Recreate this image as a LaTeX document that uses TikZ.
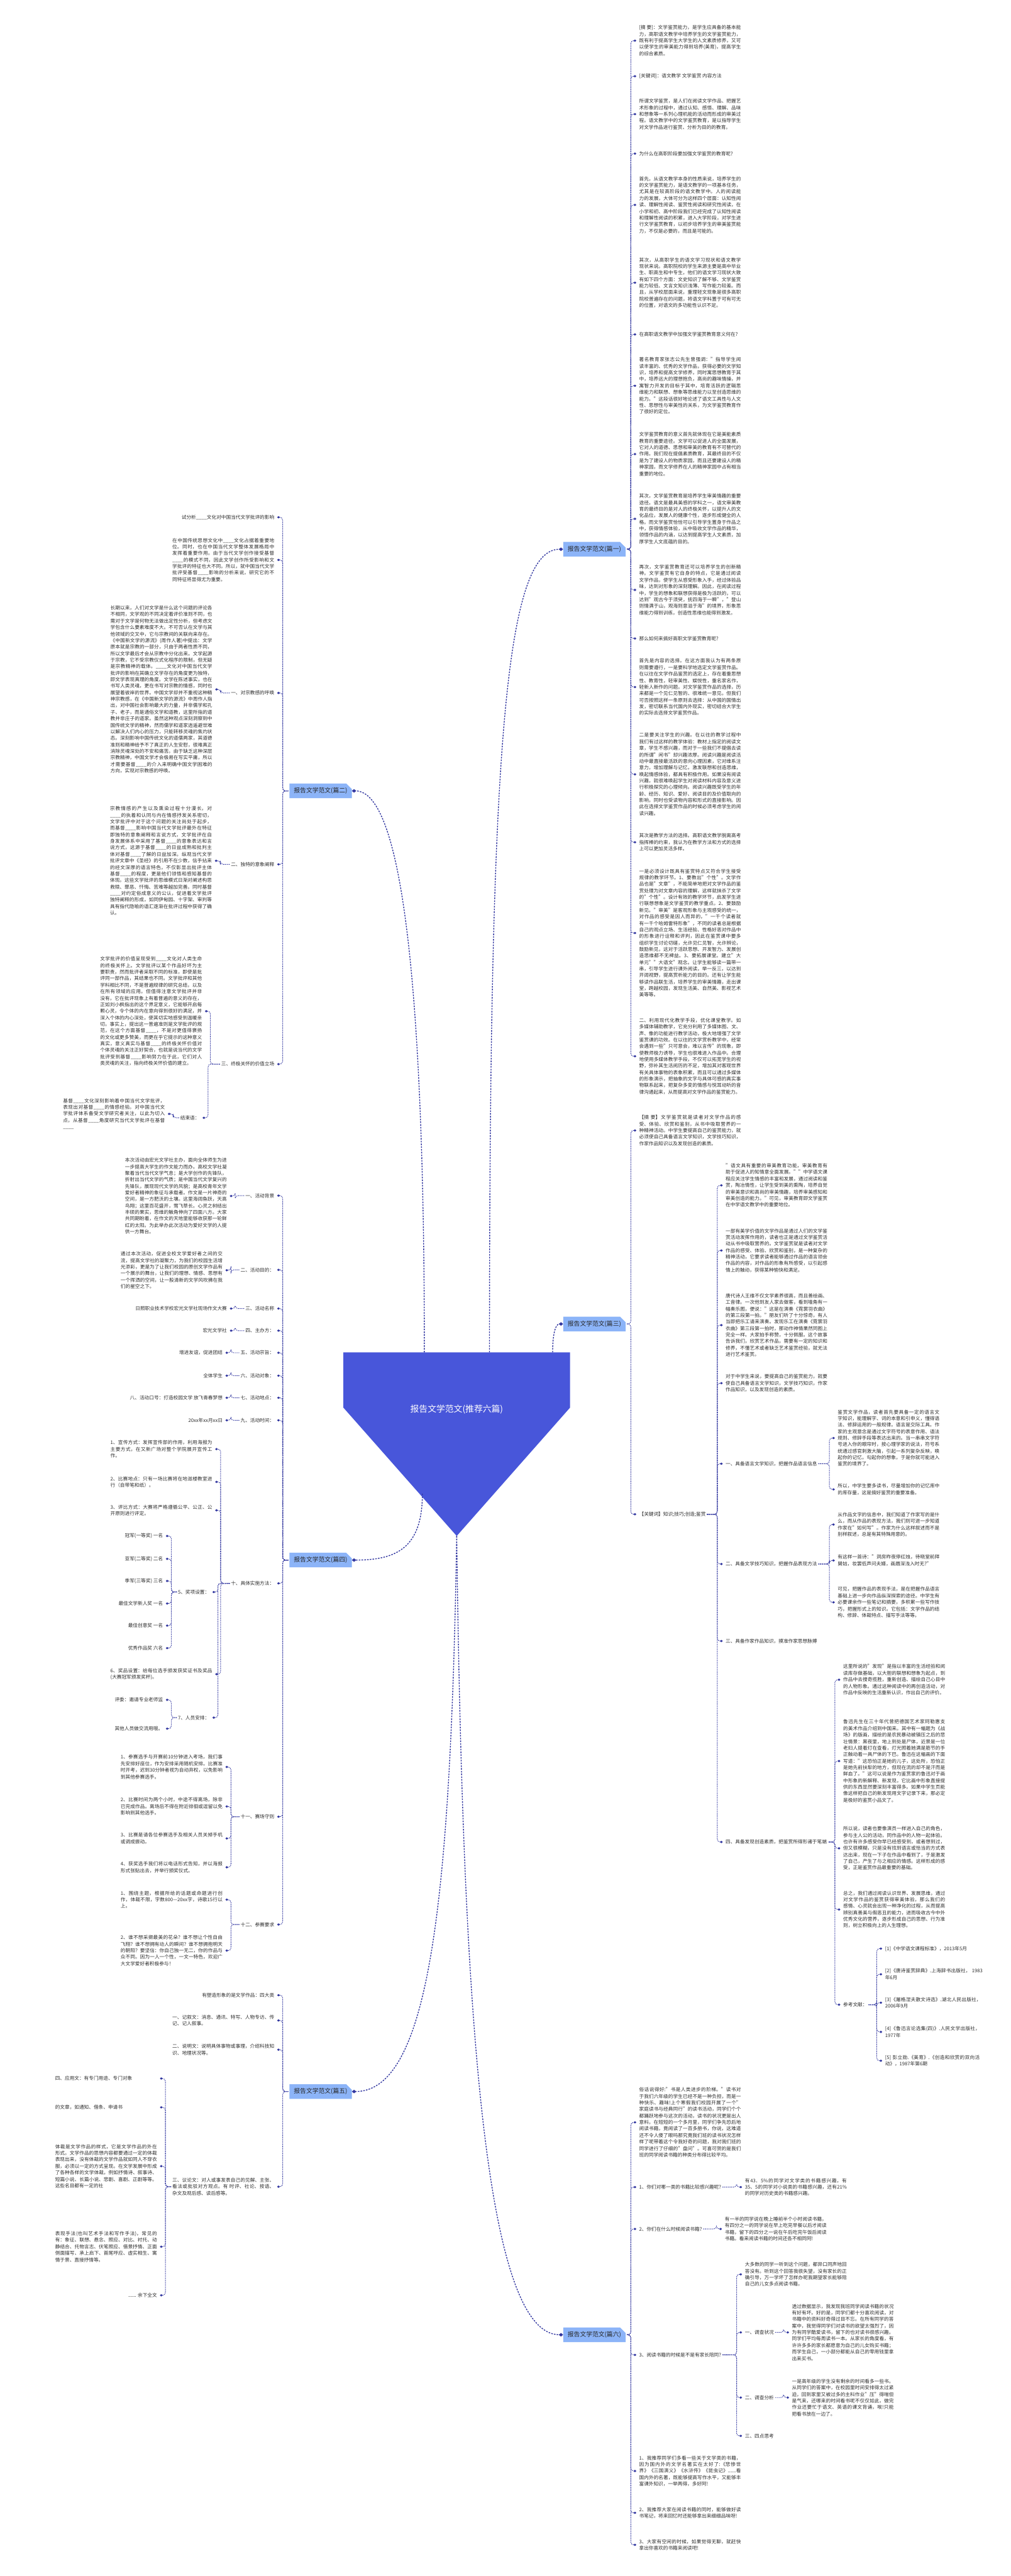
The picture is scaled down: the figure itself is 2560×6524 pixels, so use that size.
\documentclass[tikz,border=0pt]{standalone}
\usepackage{fontspec}
\setmainfont{Noto Sans CJK SC}
\usetikzlibrary{arrows.meta,shapes.misc,calc}
\XeTeXlinebreaklocale "zh"
\XeTeXlinebreakskip=0pt plus 1pt
\definecolor{lc}{RGB}{50,55,160}
\definecolor{txt}{RGB}{45,45,45}
\definecolor{brf}{RGB}{140,180,248}
\definecolor{ctrf}{RGB}{72,86,218}
\newcommand\tf{\fontsize{12.2pt}{16.5pt}\selectfont}
\tikzset{
  tR/.style={anchor=west,inner sep=0pt,font=\tf,text=txt,align=left},
  pR/.style={tR,text width=258pt,align=justify},
  tL/.style={anchor=east,inner sep=0pt,font=\tf,text=txt,align=right},
  pL/.style={anchor=east,inner sep=0pt,font=\tf,text=txt,text width=258pt,align=justify},
  brR/.style={chamfered rectangle,chamfered rectangle corners=north east,chamfered rectangle xsep=7pt,chamfered rectangle ysep=7pt,fill=brf,minimum width=158pt,minimum height=37pt,inner sep=0pt,font=\fontsize{15.6pt}{18pt}\selectfont,text=black!85,anchor=east},
  brL/.style={brR,anchor=west},
  con/.style={draw=lc,line width=1.5pt,dash pattern=on 2.5pt off 2pt,rounded corners=7pt,-{Diamond[length=7pt,width=6pt]}},
  mainc/.style={draw=lc,line width=2.2pt,dash pattern=on 4pt off 3pt,-{Diamond[length=11pt,width=9pt]}}
}
\newcommand\cR[2]{\draw[con] ([xshift=3pt]#1.east) -| ([xshift=-21pt]#2.west) -- ([xshift=-7pt]#2.west);}
\newcommand\cL[2]{\draw[con] ([xshift=-3pt]#1.west) -| ([xshift=21pt]#2.east) -- ([xshift=7pt]#2.east);}
\begin{document}
\begin{tikzpicture}[x=1pt,y=-1pt]
\useasboundingbox (0,0) rectangle (2560,6524);
\fill[white] (0,0) rectangle (2560,6524);

% ---------- centre ----------
\coordinate (ptl) at (870,3425);
\coordinate (ptr) at (1444,3425);
\coordinate (psr) at (1444,3565);
\coordinate (pbot) at (1157,3890);
\coordinate (psl) at (870,3565);
\fill[ctrf] (ptl) -- (ptr) -- (psr) -- (pbot) -- (psl) -- cycle;
\node[text=white,font=\fontsize{22pt}{25pt}\selectfont] (ctr) at (1157,3570) {报告文学范文(推荐六篇)};
\coordinate (s1) at (1240,3425);
\coordinate (s2) at (1075,3425);
\coordinate (s3) at (1400,3425);
\coordinate (s4) at (1070,3783);

% ---------- branch nodes ----------
\node[brR] (b1) at (1585,1391) {报告文学范文(篇一)};
\node[brL] (b2) at (733,2003) {报告文学范文(篇二)};
\node[brR] (b3) at (1585,3353) {报告文学范文(篇三)};
\node[brL] (b4) at (733,3951) {报告文学范文(篇四)};
\node[brL] (b5) at (733,5297) {报告文学范文(篇五)};
\node[brR] (b6) at (1585,5913) {报告文学范文(篇六)};

\draw[mainc] (s1) .. controls ($(s1)+(0,-1500)$) and ($(b1.west)+(-150,0)$) .. (b1.west);
\draw[mainc] (s2) .. controls ($(s2)+(0,-900)$) and ($(b2.east)+(130,0)$) .. (b2.east);
\draw[mainc] (s3) .. controls ($(s3)+(0,-45)$) and ($(b3.west)+(-20,0)$) .. (b3.west);
\draw[mainc] (s4) .. controls ($(s4)+(0,140)$) and ($(b4.east)+(110,0)$) .. (b4.east);
\draw[mainc] (pbot) .. controls ($(pbot)+(-15,900)$) and ($(b5.east)+(200,0)$) .. (b5.east);
\draw[mainc] (pbot) .. controls ($(pbot)+(15,1200)$) and ($(b6.west)+(-200,0)$) .. (b6.west);

% ---------- 篇一 ----------
\node[pR] (a1) at (1619,103) {[摘 要]：文学鉴赏能力，是学生应具备的基本能力，高职语文教学中培养学生的文学鉴赏能力，既有利于提高学生大学生的人文素质修养，又可以使学生的审美能力得到培养(美育)，提高学生的综合素质。};
\node[tR] (a2) at (1619,193) {[关键词]：语文教学 文学鉴赏 内容方法};
\node[pR] (a3) at (1619,289) {所谓文学鉴赏，是人们在阅读文学作品、把握艺术形象的过程中，通过认知、感悟、理解、品味和想象等一系列心理机能的活动而形成的审美过程。语文教学中的文学鉴赏教育，是以指导学生对文学作品进行鉴赏、分析为目的的教育。};
\node[tR] (a4) at (1619,389) {为什么在高职阶段要加强文学鉴赏的教育呢?};
\node[pR] (a5) at (1619,519) {首先，从语文教学本身的性质来说，培养学生的的文学鉴赏能力，是语文教学的一项基本任务，尤其是在较高阶段的语文教学中。人的阅读能力的发展，大体可分为这样四个层面：认知性阅读、理解性阅读、鉴赏性阅读和研究性阅读，在小学和初、高中阶段我们已经完成了认知性阅读和理解性阅读的积累，进入大学阶段，对学生进行文学鉴赏教育，以初步培养学生的审美鉴赏能力，不仅是必要的，而且是可能的。};
\node[pR] (a6) at (1619,716) {其次，从高职学生的语文学习现状和语文教学现状来说。高职院校的学生来源主要是高中毕业生、职高生和中专生，他们的语文学习现状大致有如下四个方面：文史知识了解不够、文学鉴赏能力较低、文言文知识浅薄、写作能力较差。而且，从学校层面来说，重理轻文现象是很多高职院校普遍存在的问题，将语文学科置于可有可无的位置，对语文的多功能性认识不足。};
\node[pR] (a7) at (1619,847) {在高职语文教学中加强文学鉴赏教育意义何在?};
\node[pR] (a8) at (1619,977) {著名教育家张志公先生曾强调："指导学生阅读丰富的、优秀的文学作品，获得必要的文学知识，培养和提高文学修养，同时寓思想教育于其中，培养远大的理想抱负，高尚的趣味情操，并寓智力开发的目标于其中，培育活跃的逻辑思维能力和联想、想象等思维能力以至创造思维的能力。"这段话很好地论述了语文工具性与人文性、思想性与审美性的关系，为文学鉴赏教育作了很好的定位。};
\node[pR] (a9) at (1619,1150) {文学鉴赏教育的意义首先就体现在它是美能素质教育的重要途径。文学可以促进人的全面发展，它对人的道德、思想和审美的教育有不可替代的作用。我们现在提倡素质教育，其最终目的不仅是为了建设人的物质家园，而且还要建设人的精神家园，而文学修养在人的精神家园中占有相当重要的地位。};
\node[pR] (a10) at (1619,1314) {其次，文学鉴赏教育是培养学生审美情趣的重要途径。语文是最具美感的学科之一，语文审美教育的最终目的是对人的终极关怀，以提升人的文化品位，发展人的健康个性，逐步形成健全的人格。而文学鉴赏恰恰可以引导学生置身于作品之中，获得情感体验，从中吸收文学作品的精华，领悟作品的内涵，以达到提高学生人文素质，加厚学生人文底蕴的目的。};
\node[pR] (a11) at (1619,1494) {再次，文学鉴赏教育还可以培养学生的创新精神。文学鉴赏有它自身的特点，它是通过阅读文学作品，使学生从感受形象入手，经过体验品味，达到对形象的深刻理解。因此，在阅读过程中，学生的想象和联想获得是极为活跃的，可以达到"观古今于须臾，抚四海于一瞬"，"登山则情满于山，观海则意溢于海"的境界，形象思维能力得到训练，创造性思维也能得到激发。};
\node[tR] (a12) at (1619,1617) {那么如何来搞好高职文学鉴赏教育呢?};
\node[pR] (a13) at (1619,1740) {首先是内容的选择。在这方面我认为有两条原则需要遵行，一是要科学地选定文学鉴赏作品。在以往在文学作品鉴赏的选定上，存在着重思想性、教育性，轻审美性、娱悦性，重名家名作，轻新人新作的问题。对文学鉴赏作品的选择，历来都是一个见仁见智的、很难统一意见。但我们可否按照这样一条原则去选择：从中国的国情出发，密切联系当代国内外现实，密切结合大学生的实际去选择文学鉴赏作品。};
\node[pR] (a14) at (1619,1961) {二是要关注学生的兴趣。在以往的教学过程中我们有过这样的教学体验：教材上指定的阅读文章，学生不感兴趣，而对于一些我们不提倡去读的所谓"闲书"却兴趣浓厚。阅读兴趣是阅读活动中最直接最活跃的意向心理因素，它对维系注意力，增加理解与记忆，激发联想和创造思维，唤起情感体验，都具有积极作用。如果没有阅读兴趣，就很难唤起学生对阅读材料内容及意义进行积极探究的心理倾向。阅读兴趣既受学生的年龄、经历、知识、爱好、阅读目的及价值取向的影响，同时也受读物内容和形式的直接影响。因此在选择文学鉴赏作品的时候必须考虑学生的阅读兴趣。};
\node[pR] (a15) at (1619,2133) {其次是教学方法的选择。高职语文教学脱离高考指挥棒的约束，我认为在教学方法和方式的选择上可以更加灵活多样。};
\node[pR] (a16) at (1619,2363) {一是必须设计既具有鉴赏特点又符合学生接受规律的教学环节。1、要教出"个性"。文学作品也是"文章"，不能简单地把对文学作品的鉴赏处理为对文章内容的理解，这样就抹杀了文学的"个性"。设计有效的教学环节，启发学生进行联想想象是文学鉴赏的教学重点。2、要鼓励新见。"审美"是客观形象与主观感受的统一，对作品的感受是因人而异的，"一千个读者就有一千个哈姆雷特形象"，不同的读者总是根据自己的观点立场、生活经验、性格好恶对作品中的形象进行诠释和评判，因此在鉴赏课中要多组织学生讨论切磋，允许见仁见智，允许辨论，鼓励新见，这对于活跃思想、开发智力、发展创造思维都不无裨益。3、要拓展课堂。建立"大单元""大语文"观念。让学生能够读一篇带一串，引导学生进行课外阅读，举一反三，以达到开阔视野，提高赏析能力的目的。还有让学生能够读作品联生活，培养学生的审美情趣，走出课堂，跨越校园，发现生活美、自然美、影视艺术美等等。};
\node[pR] (a17) at (1619,2675) {二、利用现代化教学手段，优化课堂教学。如多媒体辅助教学，它充分利用了多媒体图、文、声、像的功能进行教学活动，极大地增强了文学鉴赏课的功效。在以往的文学赏析教学中，经常会遇到一些"只可意会，难以言传"的现象，即使教师极力诱导，学生也很难进入作品中。合理地使用多媒体教学手段，不仅可以拓宽学生的视野，弥补其生活阅历的不足，增加其对客观世界有关具体事物的表象积累，而且可以通过多媒体的形象演示，把抽象的文字与具体可感的真实事物联系起来，把复杂多变的情感与悦耳动听的音律沟通起来，从而提高对文学作品的鉴赏能力。};
\foreach \n in {a1,a2,a3,a4,a5,a6,a7,a8,a9,a10,a11,a12,a13,a14,a15,a16,a17}{\cR{b1}{\n}}

% ---------- 篇三 ----------
\node[pR] (c0) at (1619,2863) {【摘 要】文学鉴赏就是读者对文学作品的感受、体验、欣赏和鉴别，从书中吸取营养的一种精神活动。中学生要提高自己的鉴赏能力，就必须使自己具备语言文学知识，文学技巧知识，作家作品知识以及发现创造的素质。};
\node[tR] (ck) at (1619,3835) {【关键词】知识;技巧;创造;鉴赏};
\cR{b3}{c0}\cR{b3}{ck}
\node[pR] (c1) at (1838,3002) {"语文具有重要的审美教育功能，审美教育有助于促进人的知情意全面发展。""中学语文课程应关注学生情感的丰富和发展，通过阅读和鉴赏，陶冶情性，让学生受到美的熏陶，培养自觉的审美意识和高尚的审美情趣，培养审美感知和审美创造的能力。"可见，审美教育即文学鉴赏在中学语文教学中的重要地位。};
\node[pR] (c2) at (1838,3167) {一部有美学价值的文学作品是通过人们的文学鉴赏活动发挥作用的，读者也正是通过文学鉴赏活动从书中吸取营养的。文学鉴赏就是读者对文学作品的感受、体验、欣赏和鉴别，是一种复杂的精神活动，它要求读者能够通过作品的语言领会作品的内容，对作品的形象有所感受，以引起感情上的触动，获得某种愉快和满足。};
\node[pR] (c3) at (1838,3356) {唐代诗人王维不仅文学素养很高，而且善绘画、工音律。一次他到友人家去做客，看到墙角有一幅奏乐图，便说："这是在演奏《霓裳羽衣曲》的第三段第一拍。"朋友们听了十分惊奇，有人当即把乐工请来演奏。发现乐工在演奏《霓裳羽衣曲》第三段第一拍时，那动作神情果然同图上完全一样。大家拍手称赞，十分佩服。这个故事告诉我们，欣赏艺术作品，需要有一定的知识和修养，不懂艺术或者缺乏艺术鉴赏经验，就无法进行艺术鉴赏。};
\node[pR] (c4) at (1838,3503) {对于中学生来说，要提高自己的鉴赏能力，就要使自己具备语言文学知识，文学技巧知识，作家作品知识，以及发现创造的素质。};
\node[tR] (c5) at (1838,3707) {一、具备语言文学知识，把握作品语言信息};
\node[tR] (c6) at (1838,3961) {二、具备文学技巧知识，把握作品表现方法};
\node[tR] (c7) at (1838,4156) {三、具备作家作品知识，摸准作家思想脉搏};
\node[pR] (c8) at (1838,4665) {四、具备发现创造素质，把鉴赏所得形诸于笔端};
\foreach \n in {c1,c2,c3,c4,c5,c6,c7,c8}{\cR{ck}{\n}}
\node[pR] (c51) at (2122,3642) {鉴赏文学作品，读者首先要具备一定的语言文字知识，能理解字、词的本意和引申义，懂得语法、修辞运用的一般规律。语言是交际工具。作家的主观意念是通过文字符号的表意作用、语法规则、修辞手段等表达出来的。当一串串文字符号进入你的眼帘时，按心理学家的说法，符号系统通过感官刺激大脑，引起一系列复杂反映，唤起你的记忆，勾起你的想象，于是你就可能进入鉴赏的境界了。};
\node[pR] (c52) at (2122,3772) {所以，中学生要多读书，尽量增加你的记忆库中的库存量，这是搞好鉴赏的重要准备。};
\cR{c5}{c51}\cR{c5}{c52}
\node[pR] (c61) at (2122,3861) {从作品文字的信息中，我们知道了作家写的是什么，而从作品的表现方法，我们则可进一步知道作家在"如何写"。作家为什么这样叙述而不是别样叙述，总是有其特殊用意的。};
\node[pR] (c62) at (2122,3952) {有这样一首诗："洞房昨夜停红烛，待晓堂前拜舅姑，妆罢低声问夫婿，画眉深浅入时无?"};
\node[pR] (c63) at (2122,4058) {可见，把握作品的表现手法，是在把握作品语言基础上进一步向作品纵深探索的途径。中学生有必要课余作一些笔记和摘要，多积累一些写作技巧，把握形式上的知识。它包括：文学作品的结构、修辞、体裁特点、描写手法等等。};
\cR{c6}{c61}\cR{c6}{c62}\cR{c6}{c63}
\node[pR] (c81) at (2136,4254) {这里所说的"发现"是指以丰富的生活经验和阅读库存做基础，以大胆的联想和想象为起点，到作品中去搜奇揽胜，重新创造、描绘自己心目中的人物形象。通过这种阅读中的再创造活动，对作品中反映的生活重新认识，作出自己的评价。};
\node[pR] (c82) at (2136,4460) {鲁迅先生在三十年代曾把德国艺术家珂勒惠支的美术作品介绍到中国来。其中有一幅题为《战场》的版画，描绘的是农民暴动被镇压之后的悲壮情景：黑夜里，地上到处是尸体，近景是一位老妇人提着灯在查看，灯光照着她满是筋节的手正触动着一具尸体的下巴。鲁迅在这幅画的下面写道："这恐怕正是她的儿子，这处所，恐怕正是她先前扶犁的地方，但现在流的却不是汗而是鲜血了。"这可以说是作为鉴赏家的鲁迅对于画中形象的新解释、新发现，它比画中形象直接提供的东西显然要深刻丰富得多。如果中学生页能像这样把自己的新发现用文字记录下来，那必定是极好的鉴赏小品文了。};
\node[pR] (c83) at (2136,4681) {所以说，读者也要像演员一样进入自己的角色，参与主人公的活动，同作品中的人物一起体验。也许有许多感受你早已经感受到，或者想到过，但又很模糊，只是没有找到语言或恰当的方式表达出来，现在一下子在作品中看到了，于是激发了自己，产生了与之相应的情感。这样形成的感受，正是鉴赏作品最重要的基础。};
\node[pR] (c84) at (2136,4836) {总之，我们通过阅读认识世界、发展思维，通过对文学作品的鉴赏获得审美体验，那么我们的感情、心灵就会出现一种净化的过程，从而提高辨别真善美与假恶丑的能力，进而吸收古今中外优秀文化的营养，逐步形成自己的思想、行为准则，树立积极向上的人生理想。};
\node[tR] (c85) at (2136,5077) {参考文献：};
\foreach \n in {c81,c82,c83,c84,c85}{\cR{c8}{\n}}
\node[tR,text width=252pt] (r1) at (2242,4935) {[1]《中学语文课程标准》，2013年5月};
\node[tR,text width=252pt] (r2) at (2242,5000) {[2]《唐诗鉴赏辞典》.上海辞书出版社， 1983年6月};
\node[tR,text width=252pt] (r3) at (2242,5072) {[3]《屠格涅夫散文诗选》.湖北人民出版社，2006年9月};
\node[tR,text width=252pt] (r4) at (2242,5146) {[4]《鲁迅言论选集(四)》.人民文学出版社，1977年};
\node[tR,text width=252pt] (r5) at (2242,5219) {[5] 彭立勋.《美育》.《创造和欣赏的双向活动》，1987年第6期};
\foreach \n in {r1,r2,r3,r4,r5}{\cR{c85}{\n}}

% ---------- 篇六 ----------
\node[pR] (f0) at (1619,5375) {俗话说得好:"书是人类进步的阶梯。"读书对于我们六年级的学生已经不是一种负担，而是一种快乐、趣味!上个寒假我们校园开展了一个"家庭读书与经典同行"的读书活动，同学们个个都踊跃地参与这次的活动，读书的状况更是出人意料，在短短的一个多月里，同学们争先恐后地阅读书籍，竟阅读了一百多册书，你说，这难道还不令人傻了眼吗那究竟我们班的读书状况怎样样了呢带着这个令我好奇的问题，我对我们班的同学进行了仔细的"盘问"。可喜可贺的是我们班的同学阅读书籍的种类分布得比较平均。};
\node[tR] (f1) at (1619,5539) {1、你们对哪一类的书籍比较感兴趣呢?};
\node[tR] (f2) at (1619,5645) {2、你们在什么时候阅读书籍?};
\node[tR] (f3) at (1619,5964) {3、阅读书籍的时候是不是有家长陪同?};
\node[pR] (f4) at (1619,6258) {1、我推荐同学们多看一些关于文学类的书籍，因为国内外的文学名著实在太好了:《悲惨世界》《三国演义》《水浒传》《昆虫记》......看国内外的名著，既能够提高写作水平，又能够丰富课外知识，一举两得，多好阿!};
\node[pR] (f5) at (1619,6364) {2、我推荐大家在阅读书籍的同时，能够做好读书笔记，将来回忆时还能够拿出来细细品味呀!};
\node[pR] (f6) at (1619,6445) {3、大家有空闲的时候，如果觉得无聊，就赶快拿出你喜欢的书籍来阅读吧!};
\foreach \n in {f0,f1,f2,f3,f4,f5,f6}{\cR{b6}{\n}}
\node[pR] (f1c) at (1887,5539) {有43．5\%的同学对文学类的书籍感兴趣，有35、5的同学对小说类的书籍感兴趣，还有21\%的同学对历史类的书籍感兴趣。};
\node[pR] (f2c) at (1836,5645) {有一半的同学说在晚上睡前半个小时阅读书籍，有四分之一的同学说在早上吃完早餐以后才阅读书籍，留下的四分之一说在午后吃完午饭后阅读书籍。看来阅读书籍的时间还各不相同阿!};
\cR{f1}{f1c}\cR{f2}{f2c}
\node[pR] (f31) at (1887,5760) {大多数的同学一听到这个问题，都异口同声地回答没有。听到这个回答我很失望，没有家长的正确引导，万一学坏了怎样办呢我期望家长能够陪自己的儿女多点阅读书籍。};
\node[tR] (f32) at (1887,5907) {一、调查状况};
\node[tR] (f33) at (1887,6072) {二、调查分析};
\node[tR] (f34) at (1887,6169) {三、四点思考};
\foreach \n in {f31,f32,f33,f34}{\cR{f3}{\n}}
\node[pR] (f32c) at (2006,5907) {透过数据显示，我发现我班同学阅读书籍的状况有好有坏。好的是，同学们都十分喜欢阅读，对书籍中的资料好奇得过目不忘。在所有同学的答案中，我觉得同学们对读书的欲望太强烈了，因为有同学酷爱读书，留下的也对读书很感兴趣。同学们平均每周读书一本。从家长的角度看，有许许多多的家长都愿意为自己的儿女购买书籍；而学生自己，一小部分都能从自己的零用钱里拿出来买书。};
\node[pR] (f33c) at (2006,6072) {一是高年级的学生没有剩余的时间看多一些书。从同学们的答案中，在校园里时间安排得太过紧迫，回到家里又被过多的主科作业"压"得喘但是气来，还哪来的时间看书呢不仅仅如此，做完作业还要忙于语文、英语的课文背诵，唉!只能把看书放在一边了。};
\cR{f32}{f32c}\cR{f33}{f33c}

% ---------- 篇二 ----------
\node[tL] (e1) at (695,1310) {试分析\_\_\_\_文化对中国当代文学批评的影响};
\node[pL] (e2) at (695,1418) {在中国传统思想文化中\_\_\_\_文化占据着重要地位。同时，也在中国当代文学整体发展格局中发挥着重要作用。由于当代文学创作接受基督\_\_\_\_的模式不同，因此文学创作所受影响和文学批评的特征也大不同。所以，就中国当代文学批评受基督\_\_\_\_影响的分析来说，研究它的不同特征将显得尤为重要。};
\node[tL] (e3) at (695,1755) {一、对宗教感的呼唤};
\node[tL] (e4) at (695,2189) {二、独特的意象阐释};
\node[tL] (e5) at (695,2695) {三、终极关怀的价值立场};
\foreach \n in {e1,e2,e3,e4,e5}{\cL{b2}{\n}}
\node[pL] (e3c) at (538,1746) {长期以来，人们对文学是什么这个问题的评论各不相同，文学观的不同决定着评价准则不同，也需对于文学是何物无法做出定性分析，但考虑文学包含什么要素难度不大。不可否认在文学与其他领域的交叉中，它与宗教间的关联向来存在。《中国新文学的源流》(周作人著)中提出：文学原本就是宗教的一部分，只由于两者性质不同，所以文学最后才会从宗教中分化出来。文学起源于宗教，它不受宗教仪式化程序的限制，但无疑是宗教精神的载体。\_\_\_\_文化对中国当代文学批评的影响在其确立文学存在的角度更为独特，即文学表现真理的角度。文学在陈述事实，也在书写人类灵魂，更在书写对宗教的情感，同时也展望着彼岸的世界。中国文学却并不重视这种精神宗教感，在《中国新文学的源流》中周作人指出，对中国社会影响最大的力量，并非儒学和孔子、老子，而是通俗文学和道教，这里所指的道教并非庄子的道家。虽然这种观点深刻洞察到中国传统文学的精神，然而儒学和道家逍遥避世难以解决人们内心的压力，只能转移灵魂的焦灼状态。深刻影响中国传统文化的道儒两家，其道德准则和精神给予不了真正的人生安慰，很难真正消除灵魂深处的不安和痛苦。由于缺乏这种深层宗教精神，中国文学才会极易在写实平庸，所以才需要基督\_\_\_\_的介入来明确中国文学困难的方向，实现对宗教感的呼唤。};
\cL{e3}{e3c}
\node[pL] (e4c) at (537,2180) {宗教情感的产生以及熏染过程十分漫长，对\_\_\_\_的执着和认同与内在情感抒发关系密切，文学批评中对于这个问题的关注尚处于起步，而基督\_\_\_\_影响中国当代文学批评最外在特征即独特的意象阐释和言说方式，文学批评在自身发展体系中采用了基督\_\_\_\_的意象表达和言说方式，这源于基督\_\_\_\_的日益成熟和批判主体对基督\_\_\_\_了解的日益加深。纵观当代文学批评文章中《圣经》的引用不在少数，信手拈来的经文深厚的语言特色，不仅彰显出批评主体基督\_\_\_\_的程度，更是他们领悟和感知基督的体现。这些文学批评的思维模式日渐对阐述构思救赎、罪恶、忏悔、苦难等越加完善。同时基督\_\_\_\_对约定俗成意义的公认，促进着文学批评独特阐释的形成，如同伊甸园、十字架、审判等具有指代隐喻的语汇逐渐在批评过程中获得了确认。};
\cL{e4}{e4c}
\node[pL] (e5a) at (512,2561) {文学批评的价值呈现受到\_\_\_\_文化对人类生命的终极关怀上。文学批评以某个作品好坏为主要职责，然而批评者采取不同的标准，即使是批评同一部作品，其结果也不同。文学批评和其他学科相比不同，不是普遍规律的研究总结，以及在所有领域的应用。但值得注意文学批评并非没有，它在批评现象上有着普遍的意义的存在，正如刘小枫指出的这个界定意义，它能够开启每颗心灵，令个体的内在意向得到很好的满足，并深入个体的内心深处，使其切实地感受到温暖亲切。事实上，提出这一普遍准则是文学批评的规范，在这个方面基督\_\_\_\_，不是对更值得褒扬的文化或更多赞美，而更在乎它提示的这种意义真实，意义真实与基督\_\_\_\_的终极关怀价值对个体灵魂的关注正好契合，也就是说当代的文学批评受到基督\_\_\_\_影响努力在于此，它们对人类灵魂的关注，指向终极关怀价值的建立。};
\node[tL] (e5b) at (506,2831) {结束语：};
\cL{e5}{e5a}\cL{e5}{e5b}
\node[pL] (e5bc) at (418,2821) {基督\_\_\_\_文化深刻影响着中国当代文学批评，表现出对基督\_\_\_\_的情感经验。对中国当代文学批评体系备受文学研究者关注，以此为切入点，从基督\_\_\_\_角度研究当代文学批评在基督\_\_\_\_};
\cL{e5b}{e5bc}

% ---------- 篇四 ----------
\node[tL] (g1) at (695,3028) {一、活动背景};
\node[tL] (g2) at (695,3216) {二、活动目的：};
\node[tL] (g3) at (695,3314) {三、活动名称};
\node[tL] (g4) at (695,3370) {四、主办方：};
\node[tL] (g5) at (695,3426) {五、活动宗旨：};
\node[tL] (g6) at (695,3484) {六、活动对象：};
\node[tL] (g7) at (695,3540) {七、活动地点：};
\node[tL] (g8) at (695,3597) {九、活动时间：};
\node[tL] (g9) at (695,4010) {十、具体实施方法：};
\node[tL] (g10) at (695,4601) {十一、赛场守则};
\node[tL] (g11) at (695,4874) {十二、参赛要求};
\foreach \n in {g1,g2,g3,g4,g5,g6,g7,g8,g9,g10,g11}{\cL{b4}{\n}}
\node[pL] (g1c) at (575,3029) {本次活动由宏光文学社主办，面向全体师生为进一步提高大学生的作文能力而办。高校文学社凝聚着当代当代文学气息；是大学创作的先锋队，折射出当代文学的气质；是中国当代文学复兴的先锋队，展现现代文学的风貌；是高校青年文学爱好者精神的象征与承载者。作文是一片神奇的空间，是一方肥沃的土壤。这里海阔鱼跃，天高鸟翔；这里百花盛开，莺飞草长。心灵之树结出丰硕的果实，思维的触角伸向了四面八方。大家共同期盼着，在作文的天地里能够收获那一轮鲜红的太阳。为此举办此次活动为爱好文学的人提供一方舞台。};
\node[pL] (g2c) at (564,3217) {通过本次活动，促进全校文学爱好者之间的交流，提高文学社的凝聚力，为我们的校园生活增光添彩，更是为了让我们校园的原创文学作品有一个展示的舞台，让我们的理想、情感、思想有一个挥洒的空间，让一股清新的文学风吹拂在我们的星空之下。};
\node[tL] (g3c) at (575,3314) {日照职业技术学校宏光文学社现场作文大赛};
\node[tL] (g4c) at (575,3370) {宏光文学社};
\node[tL] (g5c) at (564,3426) {增进友谊，促进团结};
\node[tL] (g6c) at (564,3484) {全体学生};
\node[tL] (g7c) at (564,3540) {八、活动口号：打造校园文学 放飞青春梦想};
\node[tL] (g8c) at (564,3597) {20xx年xx月xx日};
\cL{g1}{g1c}\cL{g2}{g2c}\cL{g3}{g3c}\cL{g4}{g4c}\cL{g5}{g5c}\cL{g6}{g6c}\cL{g7}{g7c}\cL{g8}{g8c}
\node[pL] (h1) at (538,3670) {1、宣传方式：发挥宣传部的作用，利用海报为主要方式，在又新广场对整个学院展开宣传工作。};
\node[pL] (h2) at (538,3753) {2、比赛地点：只有一场比赛将在地滋楼教室进行（自带笔和纸）。};
\node[pL] (h3) at (538,3825) {3、评比方式：大赛将严格遵循公平、公正、公开原则进行评定。};
\node[tL] (h5) at (531,4032) {5、奖项设置：};
\node[pL] (h6) at (538,4240) {6、奖品设置：给每位选手颁发获奖证书及奖品(大赛冠军颁发奖杯)。};
\node[tL] (h7) at (531,4350) {7、人员安排：};
\foreach \n in {h1,h2,h3,h5,h6,h7}{\cL{g9}{\n}}
\node[tL] (k1) at (413,3890) {冠军(一等奖) 一名};
\node[tL] (k2) at (413,3948) {亚军(二等奖) 二名};
\node[tL] (k3) at (413,4004) {季军(三等奖) 三名};
\node[tL] (k4) at (413,4061) {最佳文学新人奖 一名};
\node[tL] (k5) at (413,4117) {最佳创意奖 一名};
\node[tL] (k6) at (413,4174) {优秀作品奖 六名};
\foreach \n in {k1,k2,k3,k4,k5,k6}{\cL{h5}{\n}}
\node[tL] (m1) at (413,4305) {评委：邀请专业老师监};
\node[tL] (m2) at (413,4378) {其他人员做交流用哦。};
\cL{h7}{m1}\cL{h7}{m2}
\node[pL] (n1) at (564,4475) {1、参赛选手与开赛前10分钟进入考场，我们事先安排好座位，作为安排采用随机安排。比赛准时开考，迟到30分钟者视为自动弃权，以免影响到其他参赛选手。};
\node[pL] (n2) at (564,4575) {2、比赛时间为两个小时，中途不得离场，除非已完成作品。离场后不得在附近徘徊或逗留以免影响到其他选手。};
\node[pL] (n3) at (564,4656) {3、比赛是请各位参赛选手及相关人员关掉手机或调成振动。};
\node[pL] (n4) at (564,4729) {4、获奖选手我们将以电话形式告知，并以海报形式张贴出去，并举行颁奖仪式。};
\foreach \n in {n1,n2,n3,n4}{\cL{g10}{\n}}
\node[pL] (o1) at (564,4811) {1、围绕主题，根据所给的话题或命题进行创作，体裁不限，字数800—20xx字，诗歌15行以上。};
\node[pL] (o2) at (564,4940) {2、谁不想采撷最美的花朵？谁不想让个性自由飞翔？谁不想拥有动人的瞬间？谁不想拥抱明天的朝阳？要坚信：你自己独一无二，你的作品与众不同。因为一人一个性，一文一特色，欢迎广大文学爱好者积极参与！};
\cL{g11}{o1}\cL{g11}{o2}

% ---------- 篇五 ----------
\node[tL] (i1) at (695,5053) {有塑造形象的是文学作品：四大类};
\node[pL] (i2) at (695,5117) {一、记叙文：消息、通讯、特写、人物专访、传记、记人叙事。};
\node[pL] (i3) at (695,5191) {二、说明文：说明具体事物或事理，介绍科技知识、地理状况等。};
\node[pL] (i4) at (695,5538) {三、议论文：对人或事发表自己的见解、主张、看法或批驳对方观点。有 时评、社论、按语、杂文及观后感、读后感等。};
\foreach \n in {i1,i2,i3,i4}{\cL{b5}{\n}}
\node[pL] (j1) at (398,5264) {四、应用文：有专门用途、专门对象};
\node[pL] (j2) at (398,5337) {的文章，如通知、借条、申请书};
\node[pL] (j3) at (398,5486) {体裁是文学作品的样式，它是文学作品的外在形式。文学作品的思想内容都要通过一定的体裁表现出来，没有体裁的文学作品就如同人不穿衣服，必须以一定的方式呈现。在文学发展中形成了各种各样的文学体裁，例如抒情诗、叙事诗、短篇小说、长篇小说、悲剧、喜剧、正剧等等。这些名目都有一定的社};
\node[pL] (j4) at (398,5690) {表现手法(也叫艺术手法和写作手法)，常见的有：象征、联想、悬念、照应、对比、衬托、动静结合、托物言志、伏笔照应、借景抒情、正面侧面描写、承上启下、首尾呼应、虚实相生、寓情于景、直接抒情等。};
\node[tL] (j5) at (398,5813) {...... 余下全文};
\foreach \n in {j1,j2,j3,j4,j5}{\cL{i4}{\n}}
\end{tikzpicture}
\end{document}
